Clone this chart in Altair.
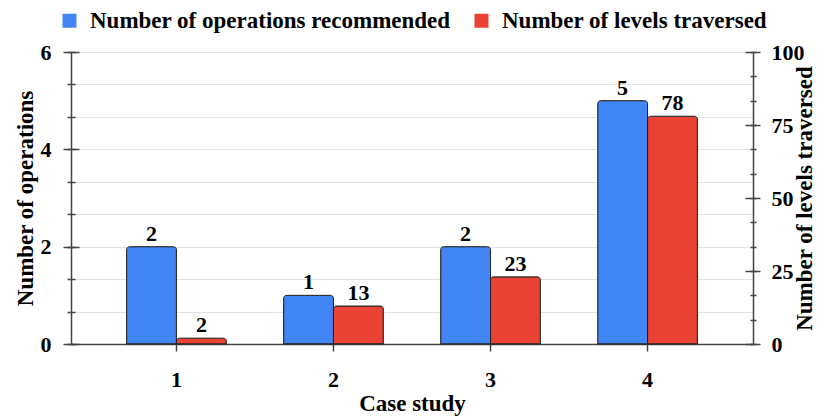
import altair as alt
import pandas as pd

# ---- data ----
cases = ["1", "2", "3", "4"]
operations = [2, 1, 2, 5]
levels = [2, 13, 23, 78]
series_names = ["Number of operations recommended", "Number of levels traversed"]
series_colors = ["#4285F4", "#EA4335"]
left_major = [0, 2, 4, 6]
left_ticks = [0, 2 / 3, 4 / 3, 2, 8 / 3, 10 / 3, 4, 14 / 3, 16 / 3, 6]
right_major = [0, 25, 50, 75, 100]
right_ticks = [0, 25 / 3, 50 / 3, 25, 100 / 3, 125 / 3, 50, 175 / 3, 200 / 3, 75, 250 / 3, 275 / 3, 100]

FONT = "Liberation Serif"
AXIS_COLOR = "#444444"

ops_df = pd.DataFrame({"case": cases, "series": series_names[0], "value": operations})
lev_df = pd.DataFrame({"case": cases, "series": series_names[1], "value": levels})

x_enc = alt.X(
    "case:N",
    title="Case study",
    sort=cases,
    scale=alt.Scale(paddingInner=0.365, paddingOuter=0.354),
    axis=alt.Axis(
        labelAngle=0, grid=False, tickSize=7, tickWidth=1.5, tickColor=AXIS_COLOR,
        domainColor=AXIS_COLOR, domainWidth=1.5, labelPadding=18, titlePadding=2,
        labelFont=FONT, labelFontSize=22, labelFontWeight="bold", labelColor="#000",
        titleFont=FONT, titleFontSize=23, titleFontWeight="bold", titleColor="#000",
    ),
)
xoff_enc = alt.XOffset(
    "series:N", sort=series_names,
    scale=alt.Scale(domain=series_names, paddingInner=0, paddingOuter=0),
)
color_enc = alt.Color(
    "series:N",
    scale=alt.Scale(domain=series_names, range=series_colors),
    legend=alt.Legend(
        title=None, orient="none", legendX=-13, legendY=-43, direction="horizontal",
        symbolType="square", symbolSize=196, symbolStrokeWidth=0,
        labelFont=FONT, labelFontSize=23, labelFontWeight="bold", labelColor="#000",
        labelOffset=9, columnPadding=19, labelLimit=600,
    ),
)

common_text = dict(
    labelFont=FONT, labelFontSize=22, labelFontWeight="bold", labelColor="#000",
    titleFont=FONT, titleFontSize=23, titleFontWeight="bold", titleColor="#000",
)

left_axis = alt.Axis(
    title="Number of operations", values=left_major, format="d",
    grid=False, tickSize=8, tickWidth=1.5, tickColor=AXIS_COLOR,
    domainColor=AXIS_COLOR, domainWidth=1.5,
    labelPadding=12, titlePadding=3, labelAlign="right", **common_text,
)
right_axis = alt.Axis(
    title="Number of levels traversed", orient="right", values=right_major, format="d",
    grid=False, tickSize=7, tickWidth=1.5, tickColor=AXIS_COLOR,
    domainColor=AXIS_COLOR, domainWidth=1.5,
    labelPadding=11, labelAlign="left", titlePadding=7, titleAngle=270, titleBaseline="alphabetic",
    **common_text,
)


def tick_axis(orient, values, size, offset, grid):
    return alt.Axis(
        orient=orient, values=values, title=None, labels=False, domain=False,
        grid=grid, gridColor="#e2e2e2", gridWidth=1,
        tickSize=size, tickWidth=1.5, tickColor=AXIS_COLOR, offset=offset,
    )


left_scale = alt.Scale(domain=[0, 6], nice=False)
right_scale = alt.Scale(domain=[0, 100], nice=False)

bar_style = dict(stroke="#222222", strokeWidth=1, cornerRadiusTopLeft=3, cornerRadiusTopRight=3)
text_style = dict(baseline="alphabetic", dy=-6, font=FONT, fontSize=22, fontWeight="bold", color="#000")


def side(df, scale, main_axis, orient, major, minor, major_in, minor_out, minor_in, grid):
    bars = alt.Chart(df).mark_bar(**bar_style).encode(
        x=x_enc, xOffset=xoff_enc,
        y=alt.Y("value:Q", scale=scale, axis=main_axis), color=color_enc,
    )
    labels = alt.Chart(df).mark_text(**text_style).encode(
        x=x_enc, xOffset=xoff_enc,
        y=alt.Y("value:Q", scale=scale, axis=None), text="value:Q",
    )
    ghosts = []
    for vals, size, off, g in [
        (minor, minor_out, 0, grid),
        (major, major_in, -major_in, False),
        (minor, minor_in, -minor_in, False),
    ]:
        ghosts.append(
            alt.Chart(df).mark_point(opacity=0).encode(
                y=alt.Y("value:Q", scale=scale, axis=tick_axis(orient, vals, size, off, g))
            )
        )
    return alt.layer(bars, labels, *ghosts).resolve_axis(y="independent")


left_group = side(ops_df, left_scale, left_axis, "left", left_major, left_ticks, 8, 4, 4, True)
right_group = side(lev_df, right_scale, right_axis, "right", right_major, right_ticks, 8, 3, 3, False)

chart = (
    alt.layer(left_group, right_group)
    .resolve_scale(y="independent")
    .properties(
        width=682, height=292,
        autosize=alt.AutoSizeParams(type="none"),
        padding={"left": 63, "top": 44, "right": 66, "bottom": 72},
    )
    .configure_view(stroke=None)
    .configure(background="white")
)

chart.save("out.html", embed_options={"renderer": "svg", "actions": False})
